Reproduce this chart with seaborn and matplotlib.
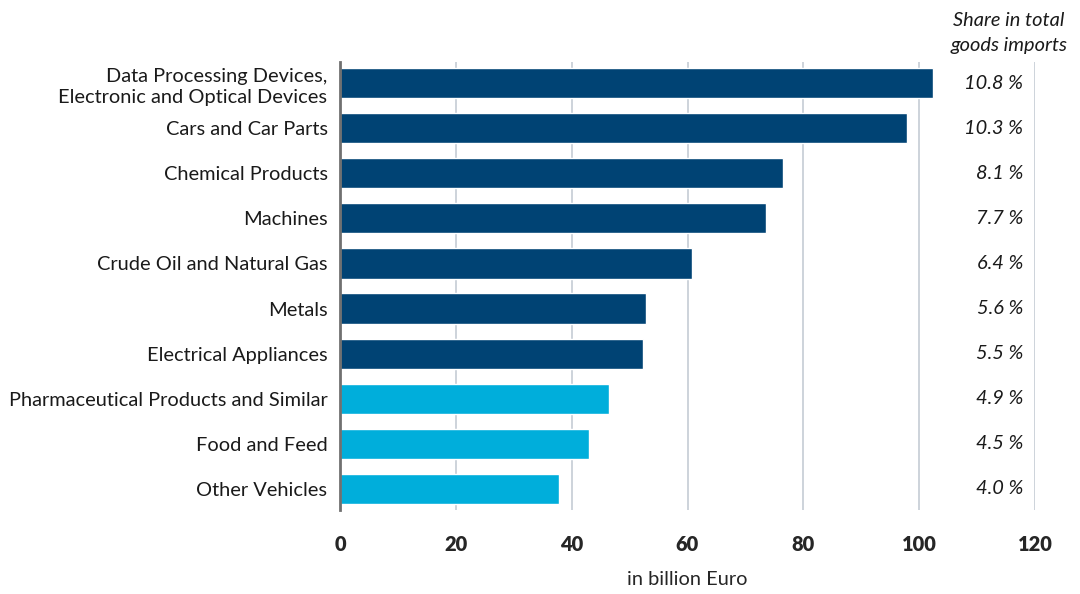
import matplotlib
matplotlib.use("Agg")
import matplotlib.pyplot as plt
import seaborn as sns
import pandas as pd

categories = [
    "Data Processing Devices,\nElectronic and Optical Devices",
    "Cars and Car Parts",
    "Chemical Products",
    "Machines",
    "Crude Oil and Natural Gas",
    "Metals",
    "Electrical Appliances",
    "Pharmaceutical Products and Similar",
    "Food and Feed",
    "Other Vehicles",
]
values = [102.4, 97.9, 76.5, 73.6, 60.8, 52.8, 52.3, 46.5, 43.0, 37.8]
shares = ["10.8 %", "10.3 %", "8.1 %", "7.7 %", "6.4 %", "5.6 %", "5.5 %", "4.9 %", "4.5 %", "4.0 %"]
groups = ["dark"] * 7 + ["light"] * 3

df = pd.DataFrame({"category": categories, "value": values, "group": groups})

sns.set_style("white")
plt.rcParams["font.family"] = ["Lato", "DejaVu Sans"]

fs = 14.4
fig = plt.figure(figsize=(10.8, 5.94), dpi=100)
ax = fig.add_axes([340 / 1080, 1 - 510 / 594, 695 / 1080, 448 / 594])

sns.barplot(data=df, x="value", y="category", hue="group",
            palette={"dark": "#004374", "light": "#00AEDB"},
            dodge=False, width=0.67, legend=False, ax=ax, saturation=1)

ax.set_xlim(0, 120)
ax.set_ylim(9.47, -0.47)
ax.set_xticks(range(0, 121, 20))
ax.set_xticklabels([str(t) for t in range(0, 121, 20)], fontweight="heavy", fontsize=fs)
ax.tick_params(axis="x", length=0, pad=18)
ax.tick_params(axis="y", length=0, labelsize=fs, pad=9, labelcolor="#1a1a1a")
for lbl in ax.get_yticklabels():
    lbl.set_linespacing(1.3)
for x in range(20, 121, 20):
    ax.axvline(x, color="#c5ccd4", lw=1.2, zorder=0)
ax.set_ylabel("")
ax.set_xlabel("in billion Euro", fontsize=fs, labelpad=12)
for s in ["top", "right", "bottom"]:
    ax.spines[s].set_visible(False)
ax.spines["left"].set_color("#707070")
ax.spines["left"].set_linewidth(2)

for i, s in enumerate(shares):
    ax.text(118, i, s, ha="right", va="center", fontsize=fs, style="italic", color="#1a1a1a")

fig.text(1009 / 1080, 1 - 33 / 594, "Share in total\ngoods imports", ha="center", va="center",
         fontsize=fs, style="italic", color="#1a1a1a", linespacing=1.55)

fig.savefig("out.png", dpi=100)
